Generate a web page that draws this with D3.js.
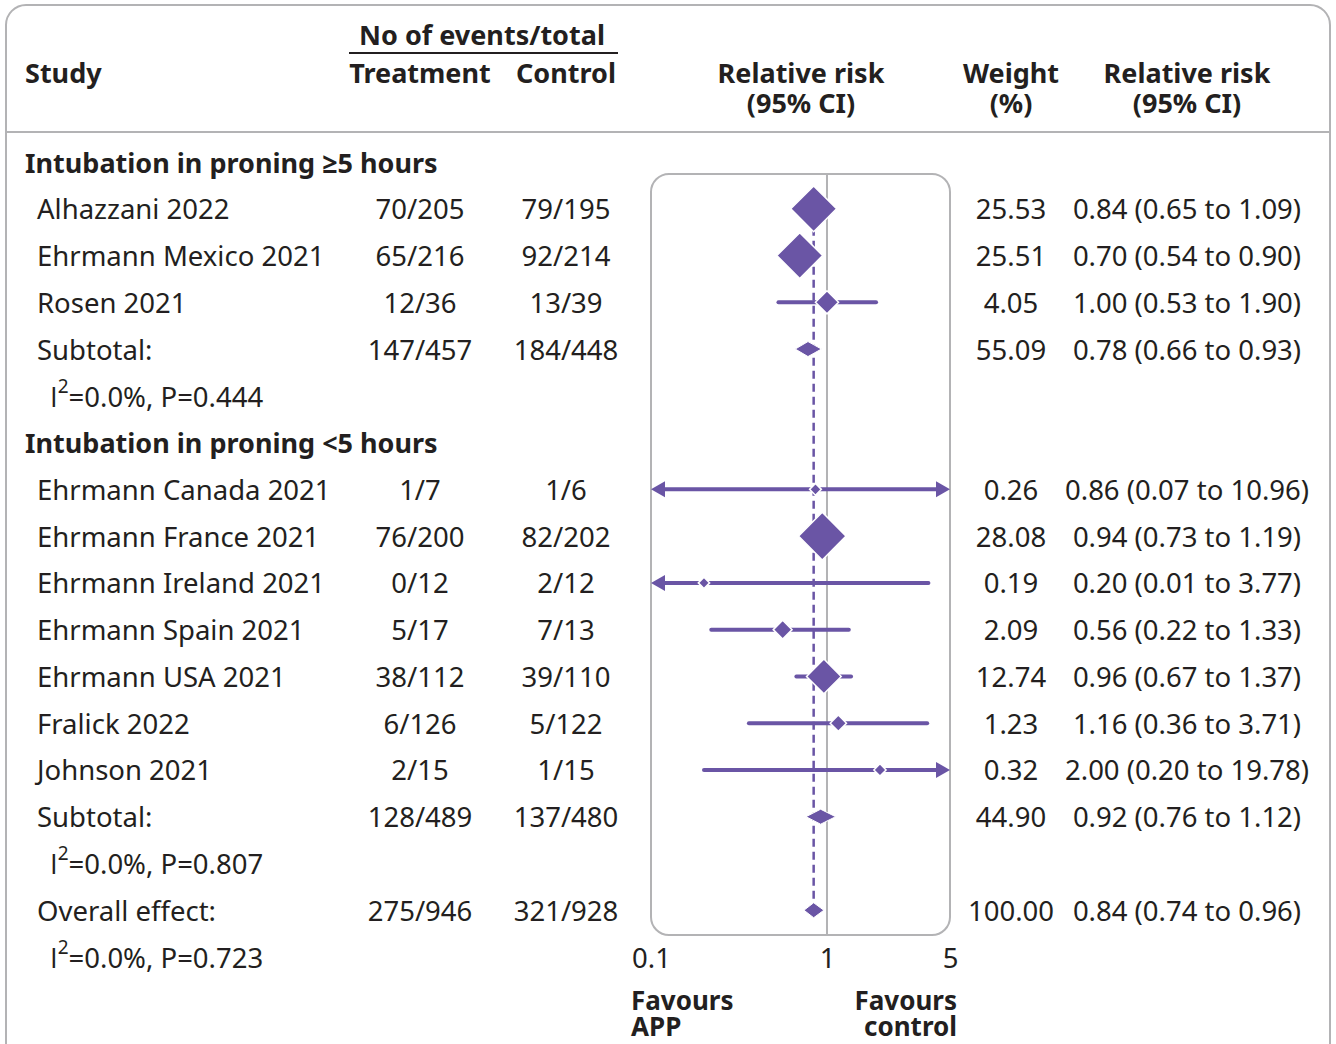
<!doctype html>
<html lang="en">
<head>
  <meta charset="utf-8">
  <title>Forest plot: intubation in awake prone positioning</title>
  <style>
    body { margin: 0; background: #fff; }
    text { font-family: "Noto Sans", "Open Sans", sans-serif; fill: #231f20; }
  </style>
</head>
<body>
<svg id="chart"></svg>
<script src="https://cdnjs.cloudflare.com/ajax/libs/d3/7.8.5/d3.min.js"></script>
<script>
// ---- data ----
var groupNames = ["Intubation in proning \u22655 hours", "Intubation in proning <5 hours"];

var studies1 = ["Alhazzani 2022", "Ehrmann Mexico 2021", "Rosen 2021"];
var treat1   = ["70/205", "65/216", "12/36"];
var ctrl1    = ["79/195", "92/214", "13/39"];
var rr1      = [0.84, 0.70, 1.00];
var lo1      = [0.65, 0.54, 0.53];
var hi1      = [1.09, 0.90, 1.90];
var weight1  = ["25.53", "25.51", "4.05"];

var studies2 = ["Ehrmann Canada 2021", "Ehrmann France 2021", "Ehrmann Ireland 2021",
                "Ehrmann Spain 2021", "Ehrmann USA 2021", "Fralick 2022", "Johnson 2021"];
var treat2   = ["1/7", "76/200", "0/12", "5/17", "38/112", "6/126", "2/15"];
var ctrl2    = ["1/6", "82/202", "2/12", "7/13", "39/110", "5/122", "1/15"];
var rr2      = [0.86, 0.94, 0.20, 0.56, 0.96, 1.16, 2.00];
var lo2      = [0.07, 0.73, 0.01, 0.22, 0.67, 0.36, 0.20];
var hi2      = [10.96, 1.19, 3.77, 1.33, 1.37, 3.71, 19.78];
var weight2  = ["0.26", "28.08", "0.19", "2.09", "12.74", "1.23", "0.32"];

// pooled rows: subtotal 1, subtotal 2, overall
var pooledLabels = ["Subtotal:", "Subtotal:", "Overall effect:"];
var pooledTreat  = ["147/457", "128/489", "275/946"];
var pooledCtrl   = ["184/448", "137/480", "321/928"];
var pooledRR     = [0.78, 0.92, 0.84];
var pooledLo     = [0.66, 0.76, 0.74];
var pooledHi     = [0.93, 1.12, 0.96];
var pooledWeight = ["55.09", "44.90", "100.00"];
var hetText      = ["=0.0%, P=0.444", "=0.0%, P=0.807", "=0.0%, P=0.723"];

var axisTicks = [0.1, 1, 5];

// ---- build row list ----
var rows = [];
function addGroup(gi, names, tr, ct, rr, lo, hi, w) {
  rows.push({type: "group", label: groupNames[gi]});
  names.forEach(function(n, i) {
    rows.push({type: "study", label: n, treat: tr[i], ctrl: ct[i], rr: rr[i], lo: lo[i], hi: hi[i], w: w[i]});
  });
}
function addPooled(pi) {
  rows.push({type: "pooled", label: pooledLabels[pi], treat: pooledTreat[pi], ctrl: pooledCtrl[pi],
             rr: pooledRR[pi], lo: pooledLo[pi], hi: pooledHi[pi], w: pooledWeight[pi]});
  rows.push({type: "het", label: hetText[pi]});
}
addGroup(0, studies1, treat1, ctrl1, rr1, lo1, hi1, weight1);
addPooled(0);
addGroup(1, studies2, treat2, ctrl2, rr2, lo2, hi2, weight2);
addPooled(1);
addPooled(2);
rows.forEach(function(d, i) { d.i = i; });

// ---- layout ----
var width = 1336, height = 1044;
var purple = "#6a55a5", grey = "#b3b3b5";
var fs = 27.5;

var svg = d3.select("#chart").attr("width", width).attr("height", height);

var x = d3.scaleLog().domain([0.1, 5]).range([651, 950]);
var y = d3.scaleLinear().domain([0, rows.length - 1]).range([162, 957]);
var size = d3.scaleSqrt().domain([0, 30]).range([4, 24.5]);

// outer frame + header rule
svg.append("rect").attr("x", 6).attr("y", 5).attr("width", 1324).attr("height", 1080)
  .attr("rx", 20).attr("fill", "none").attr("stroke", grey).attr("stroke-width", 2);
svg.append("line").attr("x1", 6).attr("x2", 1330).attr("y1", 132).attr("y2", 132)
  .attr("stroke", grey).attr("stroke-width", 2);

// header text
function head(txt, xx, yy, anchor) {
  svg.append("text").attr("x", xx).attr("y", yy).attr("text-anchor", anchor || "middle")
    .attr("dominant-baseline", "central").attr("font-size", 27).attr("font-weight", "bold").text(txt);
}
head("Study", 25, 72, "start");
head("No of events/total", 482, 34);
svg.append("line").attr("x1", 349).attr("x2", 618).attr("y1", 53).attr("y2", 53)
  .attr("stroke", "#231f20").attr("stroke-width", 2);
head("Treatment", 420, 72);
head("Control", 566, 72);
head("Relative risk", 801, 72);
head("(95% CI)", 801, 102);
head("Weight", 1011, 72);
head("(%)", 1011, 102);
head("Relative risk", 1187, 72);
head("(95% CI)", 1187, 102);

// plot panel
svg.append("rect").attr("x", x(0.1)).attr("y", 174).attr("width", x(5) - x(0.1)).attr("height", 761)
  .attr("rx", 18).attr("fill", "none").attr("stroke", grey).attr("stroke-width", 2);
svg.append("line").attr("x1", x(1)).attr("x2", x(1)).attr("y1", 174).attr("y2", 935)
  .attr("stroke", grey).attr("stroke-width", 2);

// dashed overall line
var overall = rows.filter(function(d) { return d.label === "Overall effect:"; })[0];
svg.append("line").attr("x1", x(overall.rr)).attr("x2", x(overall.rr))
  .attr("y1", y(1) - 20).attr("y2", y(overall.i))
  .attr("stroke", purple).attr("stroke-width", 2.5).attr("stroke-dasharray", "8,5");

// text columns
var g = svg.append("g");
rows.forEach(function(d) {
  var yy = y(d.i);
  if (d.type === "group") {
    g.append("text").attr("x", 25).attr("y", yy).attr("dominant-baseline", "central")
      .attr("font-size", 27).attr("font-weight", "bold").text(d.label);
  } else if (d.type === "het") {
    var t = g.append("text").attr("x", 50).attr("y", yy).attr("dominant-baseline", "central").attr("font-size", fs);
    t.append("tspan").style("font-family", "'Open Sans', sans-serif").text("I");
    t.append("tspan").attr("font-size", 19).attr("dy", -10).text("2");
    t.append("tspan").attr("dy", 10).text(d.label);
  } else {
    g.append("text").attr("x", 37).attr("y", yy).attr("dominant-baseline", "central").attr("font-size", fs).text(d.label);
    g.append("text").attr("x", 420).attr("y", yy).attr("text-anchor", "middle").attr("dominant-baseline", "central").attr("font-size", fs).text(d.treat);
    g.append("text").attr("x", 566).attr("y", yy).attr("text-anchor", "middle").attr("dominant-baseline", "central").attr("font-size", fs).text(d.ctrl);
    g.append("text").attr("x", 1011).attr("y", yy).attr("text-anchor", "middle").attr("dominant-baseline", "central").attr("font-size", fs).text(d.w);
    g.append("text").attr("x", 1187).attr("y", yy).attr("text-anchor", "middle").attr("dominant-baseline", "central").attr("font-size", fs)
      .text(d3.format(".2f")(d.rr) + " (" + d3.format(".2f")(d.lo) + " to " + d3.format(".2f")(d.hi) + ")");
  }
});

// study marks
var marks = svg.append("g");
var xmin = x.domain()[0], xmax = x.domain()[1];
rows.filter(function(d) { return d.type === "study"; }).forEach(function(d) {
  var yy = y(d.i);
  var lo = Math.max(d.lo, xmin), hi = Math.min(d.hi, xmax);
  var x1 = x(lo) + (d.lo < xmin ? 10 : 0), x2 = x(hi) - (d.hi > xmax ? 10 : 0);
  marks.append("line").attr("x1", x1).attr("x2", x2).attr("y1", yy).attr("y2", yy)
    .attr("stroke", purple).attr("stroke-width", 4).attr("stroke-linecap", "round");
  if (d.lo < xmin) {
    marks.append("path").attr("d", "M" + x(xmin) + "," + yy + "l14,-8v16z").attr("fill", purple);
  }
  if (d.hi > xmax) {
    marks.append("path").attr("d", "M" + x(xmax) + "," + yy + "l-14,-8v16z").attr("fill", purple);
  }
  var s = size(+d.w), cx = x(d.rr);
  marks.append("path")
    .attr("d", "M" + (cx - s) + "," + yy + "L" + cx + "," + (yy - s) + "L" + (cx + s) + "," + yy + "L" + cx + "," + (yy + s) + "Z")
    .attr("fill", purple).attr("stroke", "#fff").attr("stroke-width", 1.5);
});

// pooled diamonds
rows.filter(function(d) { return d.type === "pooled"; }).forEach(function(d) {
  var yy = y(d.i), h = 7.5;
  marks.append("path")
    .attr("d", "M" + x(d.lo) + "," + yy + "L" + x(d.rr) + "," + (yy - h) + "L" + x(d.hi) + "," + yy + "L" + x(d.rr) + "," + (yy + h) + "Z")
    .attr("fill", purple).attr("stroke", "#fff").attr("stroke-width", 1);
});

// axis labels
var axis = d3.axisBottom(x).tickValues(axisTicks).tickFormat(d3.format("")).tickSize(0).tickPadding(0);
var ag = svg.append("g").attr("transform", "translate(0," + y(rows.length - 1) + ")").call(axis);
ag.select(".domain").remove();
ag.selectAll("text").attr("font-size", fs).attr("font-family", null).attr("fill", null)
  .attr("dy", null).attr("y", 0).attr("dominant-baseline", "central");

// favours labels
function fav(txt, xx, yy, anchor) {
  svg.append("text").attr("x", xx).attr("y", yy).attr("text-anchor", anchor).attr("dominant-baseline", "central")
    .attr("font-size", 26).attr("font-weight", "bold").text(txt);
}
fav("Favours", 631, 1000, "start");
fav("APP", 631, 1026, "start");
fav("Favours", 957, 1000, "end");
fav("control", 957, 1026, "end");
</script>
</body>
</html>
